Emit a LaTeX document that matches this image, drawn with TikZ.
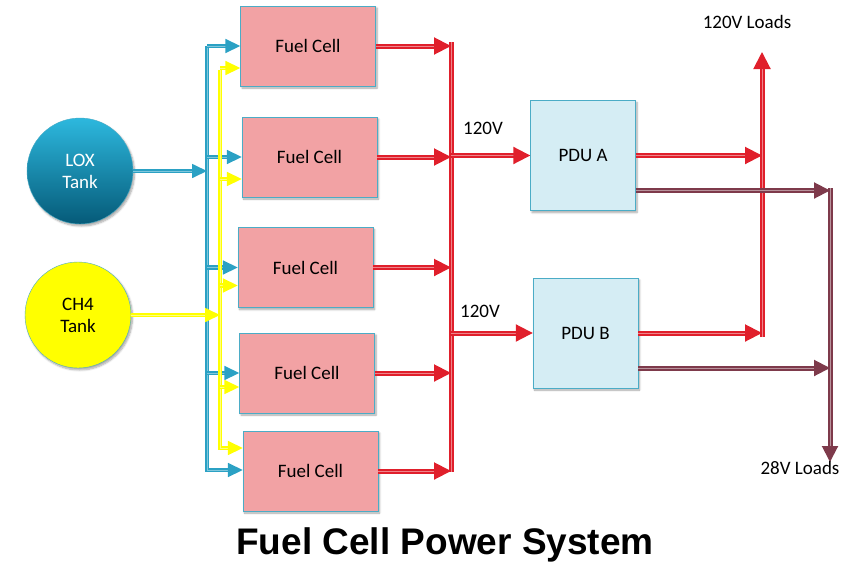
\documentclass[tikz,border=0pt]{standalone}
\usepackage{fontspec}
\setmainfont{Carlito}
\newfontfamily\titlefont{Liberation Sans}
\usepackage{xcolor}
\usepackage{tikz}
\usetikzlibrary{arrows.meta, calc, shadows.blur}
\definecolor{cellpink}{HTML}{F2A2A4}
\definecolor{edgeteal}{HTML}{4BACC6}
\definecolor{pducolor}{HTML}{D5EDF4}
\definecolor{buscolor}{HTML}{E01F2B}
\definecolor{lowcolor}{HTML}{7E3A4B}
\definecolor{oxcolor}{HTML}{2BA1C4}
\definecolor{fuelcolor}{HTML}{FFFF00}
\definecolor{loxtop}{HTML}{2DB8DE}
\definecolor{loxbot}{HTML}{055A78}

\begin{document}
\begin{tikzpicture}[
    x=1pt, y=-1pt,
    lbl/.style={font=\fontsize{19}{22}\selectfont, align=center},
    shad/.style={blur shadow={shadow xshift=1.5pt, shadow yshift=-2pt, shadow blur steps=6, shadow opacity=35}},
    cell/.style={rectangle, draw=edgeteal, fill=cellpink, minimum width=135pt, minimum height=80pt, lbl, shad},
    pdu/.style={rectangle, draw=edgeteal, fill=pducolor, minimum width=105pt, minimum height=110pt, lbl, shad},
    tank/.style={circle, draw=edgeteal, minimum size=106pt, inner sep=0pt, lbl, shad},
    oxline/.style={draw=oxcolor, line width=1.7pt, double=oxcolor!60, double distance=1pt},
    oxarr/.style={oxline, -{Triangle[length=15pt, width=14pt]}},
    fuelline/.style={draw=fuelcolor, line width=1.7pt, double=fuelcolor!50, double distance=1pt},
    fuelarr/.style={fuelline, -{Triangle[length=15pt, width=14pt]}},
    pwrline/.style={draw=buscolor, line width=2pt, double=buscolor!55, double distance=1pt},
    pwrarr/.style={pwrline, -{Triangle[length=17pt, width=17pt]}},
    lowline/.style={draw=lowcolor, line width=2pt, double=lowcolor!55, double distance=1pt},
    lowarr/.style={lowline, -{Triangle[length=16pt, width=16pt]}}
]
\useasboundingbox (0,0) rectangle (861,565);

% -- TANKS --
\node[tank, top color=loxtop, bottom color=loxbot, text=white] (lox) at (80,171) {LOX\\Tank};
\node[tank, fill=fuelcolor] (ch4) at (78,315) {CH4\\Tank};

% -- FUEL CELLS --
\node[cell] (fc1) at (308,46) {Fuel Cell};
\node[cell] (fc2) at (309.5,157) {Fuel Cell};
\node[cell] (fc3) at (305.5,267.5) {Fuel Cell};
\node[cell] (fc4) at (307,373) {Fuel Cell};
\node[cell] (fc5) at (310.5,471) {Fuel Cell};

% -- PDUs --
\node[pdu] (pdua) at (583,155.5) {PDU A};
\node[pdu] (pdub) at (585.5,333) {PDU B};

% bus end points
\coordinate (oxtop) at (207,46);
\coordinate (oxbot) at (207,470);
\coordinate (futop) at (220,70);
\coordinate (fubot) at (220,448);
\coordinate (bustop) at (451,42);
\coordinate (busbot) at (451,472);
\coordinate (hvtop) at (762,52);
\coordinate (hvbot) at (762,337);
\coordinate (lvtop) at (830,188);
\coordinate (lvbot) at (830,462);

% -- OXYGEN FEED --
\draw[oxarr] (lox.east) -- (lox.east -| oxtop);
\draw[oxarr] (oxtop) -- (oxbot) -- (oxbot -| fc5.west);
\foreach \c in {fc1,fc2,fc3,fc4}
    \draw[oxarr] (oxtop |- \c.west) -- (\c.west);

% -- METHANE FEED --
\draw[fuelarr] (ch4.east) -- (ch4.east -| futop);
\draw[fuelarr] (futop) -- (fubot) -- (fubot -| fc5.west);
\foreach \c/\dy in {fc1/22, fc2/22, fc3/18, fc4/14} {
    \coordinate (in) at ($(\c.west)+(0,\dy)$);
    \draw[fuelarr] (futop |- in) -- (in);
}

% -- 120V BUS --
\foreach \c in {fc1,fc2,fc3,fc4,fc5}
    \draw[pwrarr] (\c.east) -- (\c.east -| bustop);
\draw[pwrline] (bustop) -- (busbot);
\draw[pwrarr] (bustop |- pdua.west) -- (pdua.west);
\draw[pwrarr] (bustop |- pdub.west) -- (pdub.west);
\node[lbl] (va) at (483,128) {120V};
\node[lbl] (vb) at (480,311) {120V};

% -- LOADS --
\draw[pwrarr] (pdua.east) -- (pdua.east -| hvtop);
\draw[pwrarr] (pdub.east) -- (pdub.east -| hvtop);
\draw[pwrarr] (hvbot) -- (hvtop);
\coordinate (lowa) at ($(pdua.east)+(0,35)$);
\coordinate (lowb) at ($(pdub.east)+(0,35)$);
\draw[lowarr] (lowa) -- (lowa -| lvtop);
\draw[lowarr] (lowb) -- (lowb -| lvtop);
\draw[lowarr] (lvtop) -- (lvbot);
\node[lbl] (hiload) at (747,22) {120V Loads};
\node[lbl] (loload) at (800,468) {28V Loads};

% -- TITLE --
\node[font=\titlefont\bfseries\fontsize{37}{40}\selectfont] (title) at (445,545) {Fuel Cell Power System};

\end{tikzpicture}
\end{document}
